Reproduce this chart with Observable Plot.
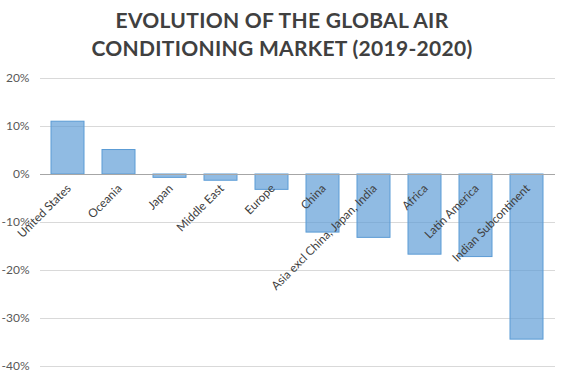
<!DOCTYPE html>
<html>
<head>
<meta charset="utf-8">
<script src="https://cdn.jsdelivr.net/npm/d3@7"></script>
<script src="https://cdn.jsdelivr.net/npm/@observablehq/plot@0.6"></script>
<style>
  html, body { margin: 0; padding: 0; background: #fff; }
  #title { width: 564px; height: 64px; box-sizing: border-box; padding-top: 6px;
    font-family: Lato, "Open Sans", sans-serif; font-weight: bold; font-size: 21px;
    line-height: 27.5px; color: #404040; text-align: center; letter-spacing: 0.3px; }
  svg { display: block; }
</style>
</head>
<body>
<div id="title">EVOLUTION OF THE GLOBAL AIR<br>CONDITIONING MARKET (2019-2020)</div>
<div id="chart"></div>
<script>
const regions = ["United States", "Oceania", "Japan", "Middle East", "Europe", "China",
  "Asia excl China, Japan, India", "Africa", "Latin America", "Indian Subcontinent"];
const changes = [0.110, 0.051, -0.007, -0.013, -0.032, -0.121, -0.132, -0.167, -0.172, -0.344];
const yTicks = [0.2, 0.1, 0, -0.1, -0.2, -0.3, -0.4];

const data = regions.map((r, i) => ({region: r, value: changes[i]}));

const chart = Plot.plot({
  width: 564,
  height: 314,
  marginTop: 14,
  marginBottom: 12,
  marginLeft: 40,
  marginRight: 9,
  style: {fontFamily: "Lato, 'Open Sans', sans-serif", background: "#fff"},
  x: {domain: regions, paddingInner: 0.35, paddingOuter: 0.175, axis: null},
  y: {domain: [-0.4, 0.2], ticks: yTicks, label: null},
  marks: [
    Plot.gridY(yTicks.filter(d => d !== 0), {stroke: "#d9d9d9", strokeOpacity: 1, strokeWidth: 1}),
    Plot.axisY(yTicks, {tickSize: 0, tickPadding: 11, fontSize: 12, fill: "#595959", label: null,
      tickFormat: d => Math.round(d * 100) + "%"}),
    Plot.barY(data, {x: "region", y: "value", fill: "#5b9bd5", fillOpacity: 0.68,
      stroke: "#5b9bd5", strokeWidth: 1}),
    Plot.ruleY([0], {stroke: "#a6a6a6", strokeWidth: 1.2}),
    Plot.text(data, {x: "region", y: () => 0, text: "region", rotate: -45,
      textAnchor: "end", lineAnchor: "middle", dx: 1, dy: 12, fontSize: 11.8, fill: "#404040"})
  ]
});
document.getElementById("chart").appendChild(chart);
</script>
</body>
</html>
